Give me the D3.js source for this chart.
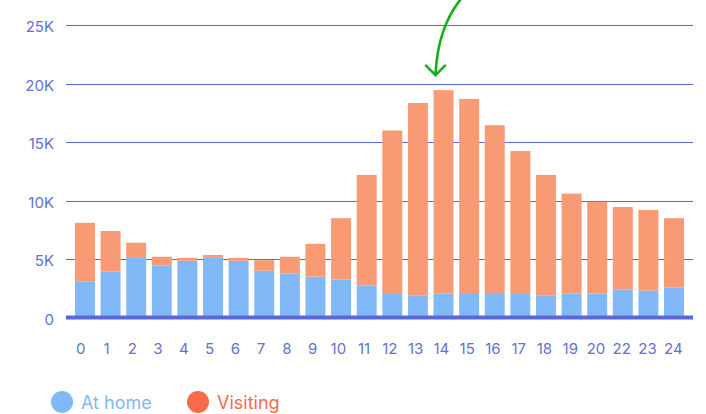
<!DOCTYPE html>
<html>
<head>
<meta charset="utf-8">
<script src="https://cdn.jsdelivr.net/npm/d3@7"></script>
<style>
  html, body { margin: 0; padding: 0; background: #fff; }
  svg { display: block; font-family: Inter, "Noto Sans", sans-serif; }
</style>
</head>
<body>
<svg id="chart" width="706" height="414"></svg>
<script>
const hours = ["0","1","2","3","4","5","6","7","8","9","10","11","12","13","14","15","16","17","18","19","20","22","23","24"];
const atHome = [3100,3950,5100,4450,4850,5100,4850,4000,3750,3500,3250,2750,2100,1900,2050,2100,2100,2100,1900,2050,2050,2400,2300,2550];
const visiting = [5000,3450,1300,750,250,250,250,900,1450,2800,5250,9450,13900,16450,17400,16600,14350,12150,10300,8550,7850,7050,6900,5950];
const yTicks = [0,5000,10000,15000,20000,25000];
const seriesNames = ["At home","Visiting"];

const barColors = {"At home":"#80b8f8","Visiting":"#f89a73"};
const legendColors = {"At home":"#80b8f8","Visiting":"#f76b4a"};
const axisColor = "#5b68d8";
const labelColor = "#6270d6";

const svg = d3.select("#chart");
const plotLeft = 66, plotRight = 693;

const x = d3.scaleBand().domain(hours).range([plotLeft, plotRight]).paddingInner(0.22).paddingOuter(0.35);
const xLabel = d3.scalePoint().domain(hours).range([80.7, 673.3]);
const y = d3.scaleLinear().domain([0, 25000]).range([317.5, 25.3]);

const rows = hours.map((h,i) => ({hour:h, "At home":atHome[i], "Visiting":visiting[i]}));
const stack = d3.stack().keys(seriesNames)(rows);

// grid
const grid = svg.append("g").attr("class","grid");
grid.selectAll("line").data(yTicks.filter(d=>d>0)).join("line")
  .attr("x1", plotLeft).attr("x2", plotRight)
  .attr("y1", d=>Math.round(y(d))+0.5).attr("y2", d=>Math.round(y(d))+0.5)
  .attr("stroke", axisColor).attr("stroke-width", 1.1);

// y labels
svg.append("g").selectAll("text").data(yTicks).join("text")
  .attr("x", 54).attr("y", d=>y(d)+7)
  .attr("text-anchor","end")
  .attr("font-size", 15).attr("fill", labelColor)
  .text(d => d===0 ? "0" : (d/1000)+"K");

// bars
svg.append("g").selectAll("g").data(stack).join("g")
  .attr("fill", s => barColors[s.key])
  .selectAll("rect").data(s=>s).join("rect")
  .attr("x", d => x(d.data.hour))
  .attr("width", x.bandwidth())
  .attr("y", d => y(d[1]))
  .attr("height", d => y(d[0]) - y(d[1]));

// baseline
svg.append("line")
  .attr("x1", plotLeft).attr("x2", plotRight)
  .attr("y1", y(0)).attr("y2", y(0))
  .attr("stroke", axisColor).attr("stroke-width", 4);

// x labels
svg.append("g").selectAll("text").data(hours).join("text")
  .attr("x", d => xLabel(d)).attr("y", 354)
  .attr("text-anchor","middle")
  .attr("font-size", 15).attr("fill", labelColor)
  .text(d=>d);

// arrow pointing to the peak
const totals = hours.map((h,i)=>atHome[i]+visiting[i]);
const peakIdx = totals.indexOf(d3.max(totals));
const tipX = x(hours[peakIdx]) + x.bandwidth()/2 - 8;
const tipY = y(totals[peakIdx]) - 15;
const arrow = svg.append("g").attr("fill","none").attr("stroke","#16b016").attr("stroke-width",2.6).attr("stroke-linecap","round").attr("stroke-linejoin","round");
arrow.append("path").attr("d", `M${tipX+27},-3 Q${tipX+2},${tipY*0.35} ${tipX},${tipY}`);
arrow.append("path").attr("d", `M${tipX-9.5},${tipY-9.5} L${tipX},${tipY} L${tipX+9.5},${tipY-9.5}`);

// legend
const legendX = [62, 198];
const lg = svg.append("g").selectAll("g").data(seriesNames).join("g")
  .attr("transform",(d,i)=>`translate(${legendX[i]},402)`);
lg.append("circle").attr("r", 11).attr("fill", d=>legendColors[d]);
lg.append("text").attr("x", 19).attr("y", 6.5).attr("font-size", 18)
  .attr("fill", d=>legendColors[d]).text(d=>d);
</script>
</body>
</html>
